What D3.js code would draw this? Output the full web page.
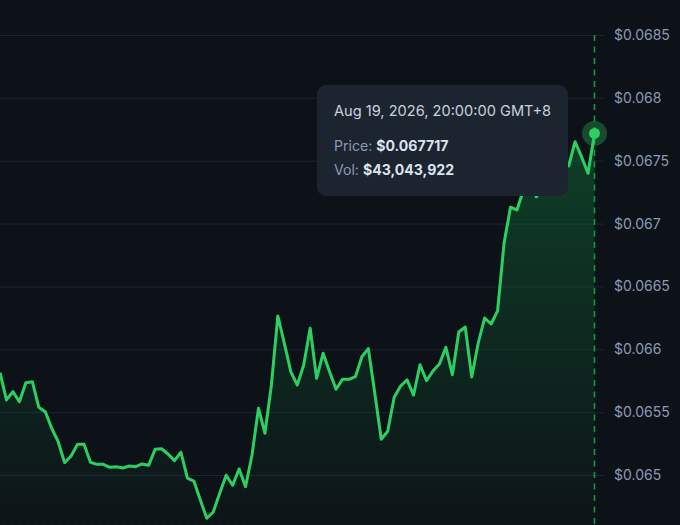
<!DOCTYPE html>
<html lang="en">
<head>
    <meta charset="UTF-8">
    <title>Price chart</title>
    <script src="https://cdn.jsdelivr.net/npm/d3@7"></script>
    <style>
        html, body { margin:0; padding:0; background:#0d1218; overflow:hidden; }
        svg { display:block; font-family:Inter, sans-serif; }
        .axis path { display:none; }
        .axis line { stroke:#1c2430; stroke-width:1; }
        .axis text { fill:#8a9bb4; font-size:14px; font-family:Inter, sans-serif; }
    </style>
</head>
<body>

<svg id="chart" width="680" height="525"></svg>

<script>

    var prices = [
        0.065814, 0.065597, 0.065663, 0.065583, 0.065734, 0.065742, 0.065539, 0.065504, 0.065372, 0.065265,
        0.065098, 0.065151, 0.065244, 0.065244, 0.065101, 0.065085, 0.065085, 0.065061, 0.065066, 0.065056,
        0.065072, 0.065066, 0.065088, 0.065077, 0.065204, 0.065209, 0.065167, 0.065114, 0.065181, 0.064976,
        0.064952, 0.064801, 0.064656, 0.064706, 0.064854, 0.064998, 0.064918, 0.065048, 0.064907, 0.065159,
        0.065531, 0.065332, 0.065716, 0.066265, 0.066048, 0.065822, 0.065716, 0.065875, 0.066167, 0.065769,
        0.065968, 0.065822, 0.065682, 0.065761, 0.065761, 0.065782, 0.065941, 0.066005, 0.065650, 0.065284,
        0.065348, 0.065618, 0.065708, 0.065756, 0.065636, 0.065877, 0.065750, 0.065827, 0.065883, 0.066016,
        0.065798, 0.066138, 0.066177, 0.065780, 0.066048, 0.066249, 0.066201, 0.066305, 0.066843, 0.067130,
        0.067108, 0.067267, 0.067347, 0.067212, 0.067299, 0.067363, 0.067426, 0.067506, 0.067458, 0.067651,
        0.067530, 0.067400, 0.067717
    ];
    var tickValues = [0.065, 0.0655, 0.066, 0.0665, 0.067, 0.0675, 0.068, 0.0685];

    var tooltipDate = "Aug 19, 2026, 20:00:00 GMT+8";
    var tooltipPrice = "$0.067717";
    var tooltipVol = "$43,043,922";

    var svg = d3.select("#chart");
    var bottom = 525;

    var x = d3.scaleLinear().domain([0, prices.length - 1]).range([0, 594.5]);
    var y = d3.scaleLinear().domain([0.065, 0.0685]).range([475, 35]);

    var lastIndex = prices.length - 1;
    var lastPrice = prices[lastIndex];

    var defs = svg.append("defs");

    var grad = defs.append("linearGradient")
        .attr("id", "areaFill")
        .attr("gradientUnits", "userSpaceOnUse")
        .attr("x1", 0).attr("x2", 0)
        .attr("y1", y(lastPrice)).attr("y2", bottom);
    grad.append("stop").attr("offset", "0%").attr("stop-color", "#10a84a").attr("stop-opacity", 0.3);
    grad.append("stop").attr("offset", "100%").attr("stop-color", "#10a84a").attr("stop-opacity", 0.01);

    var dots = defs.append("pattern")
        .attr("id", "areaDots")
        .attr("patternUnits", "userSpaceOnUse")
        .attr("width", 8).attr("height", 8);
    dots.append("circle")
        .attr("cx", 4).attr("cy", 4).attr("r", 1)
        .attr("fill", "#22c55e").attr("fill-opacity", 0.05);

    // grid and labels
    svg.append("g")
        .attr("class", "axis")
        .attr("transform", "translate(604,0)")
        .call(d3.axisRight(y)
            .tickValues(tickValues)
            .tickSize(-604)
            .tickPadding(10)
            .tickFormat(function(d) { return "$" + d; }));

    var area = d3.area()
        .x(function(d, i) { return x(i); })
        .y0(bottom)
        .y1(function(d) { return y(d); });

    var line = d3.line()
        .x(function(d, i) { return x(i); })
        .y(function(d) { return y(d); });

    svg.append("path").datum(prices).attr("d", area).attr("fill", "url(#areaFill)");
    svg.append("path").datum(prices).attr("d", area).attr("fill", "url(#areaDots)");

    svg.append("line")
        .attr("x1", x(lastIndex)).attr("x2", x(lastIndex))
        .attr("y1", y(0.0685)).attr("y2", bottom)
        .attr("stroke", "#119a41")
        .attr("stroke-width", 1.6)
        .attr("stroke-dasharray", "6,5.5");

    svg.append("path").datum(prices)
        .attr("d", line)
        .attr("fill", "none")
        .attr("stroke", "#2cd062")
        .attr("stroke-width", 3)
        .attr("stroke-linejoin", "round");

    svg.append("circle")
        .attr("cx", x(lastIndex)).attr("cy", y(lastPrice)).attr("r", 12.5)
        .attr("fill", "#2cd062").attr("fill-opacity", 0.3);
    svg.append("circle")
        .attr("cx", x(lastIndex)).attr("cy", y(lastPrice)).attr("r", 5.5)
        .attr("fill", "#2cd062");

    // tooltip
    var tip = svg.append("g").attr("transform", "translate(317,85)");
    tip.append("rect")
        .attr("width", 251).attr("height", 111).attr("rx", 9)
        .attr("fill", "#1c242f");
    tip.append("text")
        .attr("x", 17).attr("y", 31)
        .attr("font-size", 14.6).attr("fill", "#c8d2de")
        .text(tooltipDate);

    var priceRow = tip.append("text").attr("x", 17).attr("y", 65.5).attr("font-size", 14.1).attr("fill", "#8a9bb4");
    priceRow.append("tspan").text("Price: ");
    priceRow.append("tspan").attr("font-weight", 700).attr("fill", "#dbe3ec").text(tooltipPrice);

    var volRow = tip.append("text").attr("x", 17).attr("y", 90).attr("font-size", 14.1).attr("fill", "#8a9bb4");
    volRow.append("tspan").text("Vol: ");
    volRow.append("tspan").attr("font-weight", 700).attr("fill", "#dbe3ec").text(tooltipVol);

</script>

</body>
</html>
